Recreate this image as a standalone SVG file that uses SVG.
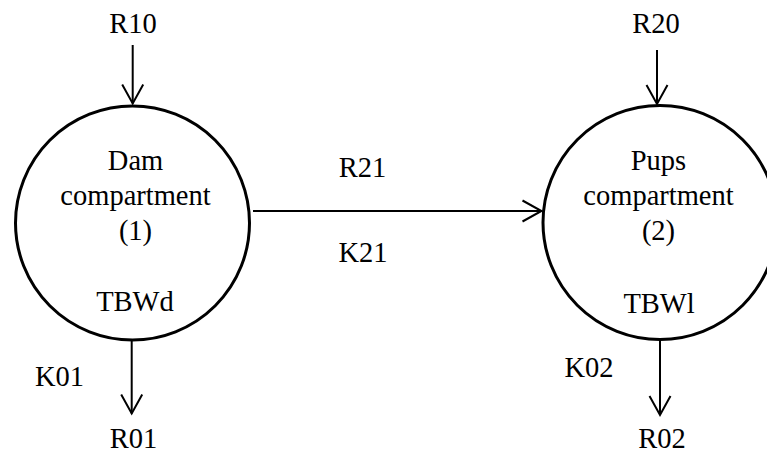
<svg xmlns="http://www.w3.org/2000/svg" width="767" height="454" viewBox="0 0 767 454">
<style>
  text { font-family: 'Liberation Serif', 'Times New Roman', serif; font-size: 28.5px; fill: #000; text-anchor: middle; }
  .node { fill: #fff; stroke: #000; stroke-width: 3; }
  .edge { fill: none; stroke: #000; stroke-width: 2; }
</style>
<defs>
  <marker id="arr" markerUnits="userSpaceOnUse" markerWidth="24" markerHeight="26" refX="20" refY="12" orient="auto" viewBox="0 0 24 24">
    <path d="M1,1.5 L20,12 L1,22.5" fill="none" stroke="#000" stroke-width="2"/>
  </marker>
</defs>
<rect width="767" height="454" fill="#fff"/>
<g id="dam">
  <circle class="node" cx="132.5" cy="223" r="117"/>
  <text x="135.5" y="170">Dam</text>
  <text x="135.5" y="205">compartment</text>
  <text x="135.5" y="240">(1)</text>
  <text x="135" y="311">TBWd</text>
</g>
<g id="pups">
  <circle class="node" cx="660" cy="222.5" r="117"/>
  <text x="658.5" y="170">Pups</text>
  <text x="658.5" y="205">compartment</text>
  <text x="658.5" y="240">(2)</text>
  <text x="659" y="313">TBWl</text>
</g>
<g id="connectors">
  <line class="edge" x1="132.7" y1="45" x2="132.7" y2="103.5" marker-end="url(#arr)"/>
  <line class="edge" x1="131.7" y1="341" x2="131.7" y2="413.5" marker-end="url(#arr)"/>
  <line class="edge" x1="253" y1="211" x2="541.5" y2="211" marker-end="url(#arr)"/>
  <line class="edge" x1="657" y1="50" x2="657" y2="104" marker-end="url(#arr)"/>
  <line class="edge" x1="660" y1="340" x2="660" y2="415" marker-end="url(#arr)"/>
</g>
<g id="labels">
  <text x="133" y="33">R10</text>
  <text x="656" y="33">R20</text>
  <text x="362.5" y="177">R21</text>
  <text x="363" y="261.5">K21</text>
  <text x="59.5" y="386">K01</text>
  <text x="133.5" y="448">R01</text>
  <text x="589" y="377">K02</text>
  <text x="662" y="448">R02</text>
</g>
</svg>
